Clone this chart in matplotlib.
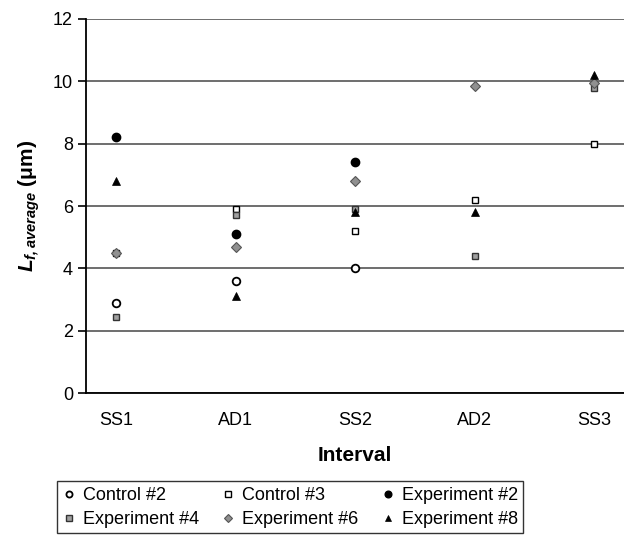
import matplotlib
matplotlib.use("Agg")
import matplotlib.pyplot as plt

plt.rcParams.update({
    "font.family": "Liberation Sans",
    "mathtext.fontset": "custom",
    "mathtext.rm": "Liberation Sans",
    "mathtext.it": "Liberation Sans:italic",
    "mathtext.bf": "Liberation Sans:bold",
    "mathtext.bfit": "Liberation Sans:bold:italic",
})

# data
intervals = ["SS1", "AD1", "SS2", "AD2", "SS3"]
control2 = [2.9, 3.6, 4.0, None, None]
control3 = [4.5, 5.9, 5.2, 6.2, 8.0]
exp2 = [8.2, 5.1, 7.4, None, None]
exp4 = [2.45, 5.7, 5.9, 4.4, 9.8]
exp6 = [4.5, 4.7, 6.8, 9.85, 9.95]
exp8 = [6.8, 3.1, 5.8, 5.8, 10.2]

series = [
    ("Control #2", control2, dict(marker="o", mfc="white", mec="black", ms=5.5, mew=1.3)),
    ("Control #3", control3, dict(marker="s", mfc="white", mec="black", ms=5, mew=1.0)),
    ("Experiment #2", exp2, dict(marker="o", mfc="black", mec="black", ms=6, mew=1)),
    ("Experiment #4", exp4, dict(marker="s", mfc="#a0a0a0", mec="#333333", ms=5, mew=1.0)),
    ("Experiment #6", exp6, dict(marker="D", mfc="#909090", mec="#555555", ms=5, mew=0.8)),
    ("Experiment #8", exp8, dict(marker="^", mfc="black", mec="black", ms=6, mew=0.5)),
]

fig = plt.figure(figsize=(6.24, 5.35), dpi=100)
ax = fig.add_axes([0.138, 0.2654, 0.862, 0.6991])

xs = list(range(1, len(intervals) + 1))
handles = []
for name, vals, st in series:
    px = [x for x, v in zip(xs, vals) if v is not None]
    py = [v for v in vals if v is not None]
    h, = ax.plot(px, py, linestyle="none", label=name, zorder=3, **st)
    handles.append(h)

ax.set_xlim(0.75, 5.25)
ax.set_ylim(0, 12)
ax.set_yticks(range(0, 13, 2))
ax.set_xticks(xs)
ax.set_xticklabels(intervals)
ax.yaxis.grid(True, color="#555555", lw=1.2)
ax.set_axisbelow(True)
ax.tick_params(axis="x", length=0, labelsize=13, pad=14)
ax.tick_params(axis="y", length=6, width=1.2, labelsize=13, direction="out")
for s in ["top", "right"]:
    ax.spines[s].set_visible(False)
ax.spines["left"].set_linewidth(1.3)
ax.spines["bottom"].set_linewidth(1.3)

ax.set_xlabel("Interval", fontsize=15, fontweight="bold", labelpad=12)
ax.set_ylabel(r"$\mathbfit{L}_{\mathbfit{f,average}}$ $\mathbf{(\mu m)}$",
              fontsize=15, labelpad=8)

# row-major legend order (matplotlib fills column by column)
order = [0, 3, 1, 4, 2, 5]
leg = fig.legend([handles[i] for i in order], [series[i][0] for i in order],
                 loc="upper center", bbox_to_anchor=(0.465, 0.117), ncol=3,
                 fontsize=13, frameon=True, fancybox=False, edgecolor="black",
                 handlelength=0.7, handletextpad=0.4, columnspacing=1.3,
                 labelspacing=0.4, borderpad=0.3, markerscale=0.8)
leg.get_frame().set_linewidth(1.0)

fig.savefig("out.png", facecolor="white")
